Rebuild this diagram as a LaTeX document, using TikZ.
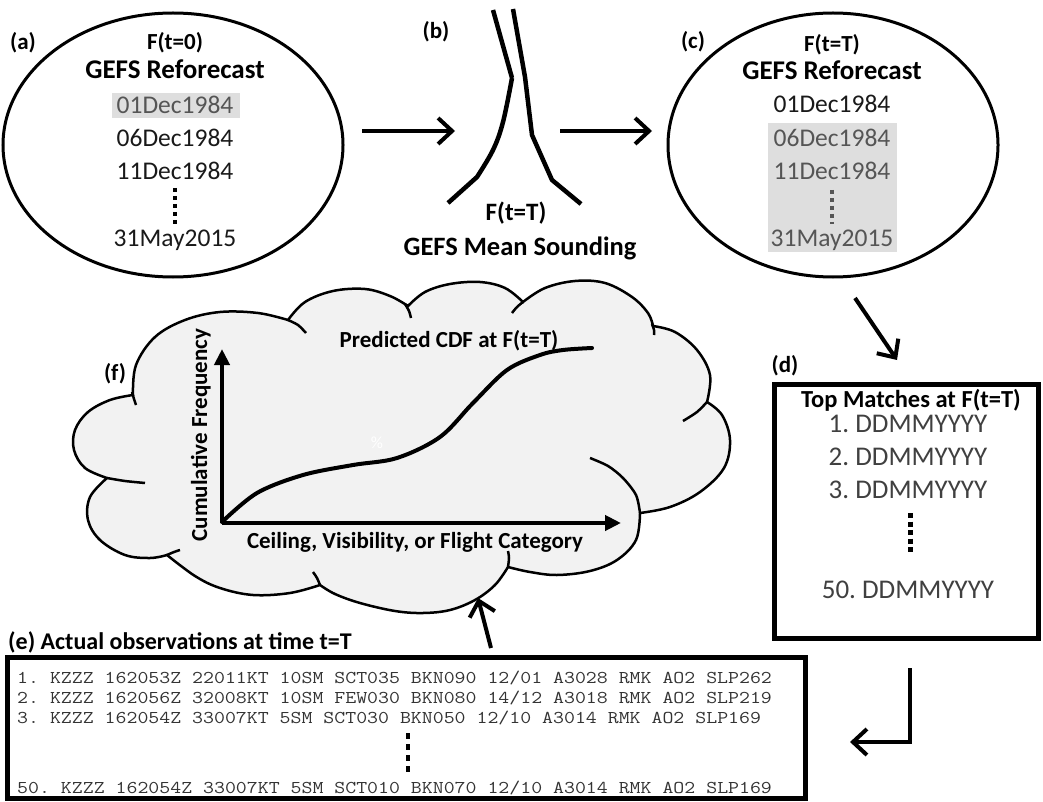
\documentclass[tikz,border=0pt]{standalone}
\usepackage{fontspec}
\setmainfont{Carlito}
\usepackage{graphicx}
\usetikzlibrary{arrows.meta,shapes.geometric}
\definecolor{hl}{HTML}{DEDEDE}
\definecolor{hltext}{HTML}{555555}
\definecolor{cloudgray}{HTML}{F2F2F2}
\definecolor{obstext}{HTML}{333333}
\definecolor{dtext}{HTML}{404040}
\frenchspacing
\begin{document}
\begin{tikzpicture}[x=1pt,y=-1pt,
  lbl/.style={font=\fontsize{23}{26}\selectfont\bfseries, inner sep=0pt},
  sub/.style={font=\fontsize{23}{28}\selectfont\bfseries, inner sep=0pt, anchor=base},
  ttl/.style={font=\fontsize{27}{30}\selectfont\bfseries, inner sep=0pt, anchor=base},
  datet/.style={font=\fontsize{25.5}{30}\selectfont, inner sep=0pt, anchor=base, text=black!90},
  hdate/.style={datet, text=hltext},
  ell/.style={ellipse, draw, line width=3pt, inner sep=0pt},
  arr/.style={line width=4pt, -{Straight Barb[length=14pt,width=26pt]}},
  sndline/.style={line width=4.5pt},
  vdots/.style={line width=4pt, dash pattern=on 4pt off 4pt},
  cloudline/.style={line width=2.5pt},
  axisline/.style={line width=4pt, -{Triangle[length=16pt,width=15pt]}},
  cl/.style={font=\fontsize{23}{26}\selectfont\bfseries, inner sep=0pt, anchor=base},
  mbox/.style={draw, line width=5pt, inner sep=0pt},
  mtext/.style={font=\fontsize{27}{30}\selectfont, inner sep=0pt, anchor=base, text=dtext},
  obs/.style={anchor=base west, inner sep=0pt, font=\fontsize{18}{18}\selectfont\ttfamily, text=obstext}
]
\useasboundingbox (0,0) rectangle (1043,802);

% ---------- (a)
\node[ell, minimum width=340pt, minimum height=264pt] (A) at (173,145) {};
\node[lbl] (la) at (23,43) {(a)};
\node[sub] (a0) at (175,50) {F(t=0)};
\node[ttl] (a1) at (175,79) {GEFS Reforecast};
\fill[hl] (112,93) rectangle (240,118);
\node[hdate] (a2) at (175,114) {01Dec1984};
\node[datet] (a3) at (175,147) {06Dec1984};
\node[datet] (a4) at (175,180) {11Dec1984};
\draw[vdots] (175,188) -- (175,224);
\node[datet] (a5) at (175,247) {31May2015};

% ---------- (b)
\node[lbl] (lb) at (436,32) {(b)};
\draw[sndline] (493,10) -- (512,78) plot[smooth,tension=0.6] coordinates {(512,78) (503,122) (493,150) (477,177)} -- (448,203);
\draw[sndline] (513,9) -- (525,77) -- (532,135) -- (552,180) -- (581,204);
\node[sub, font=\fontsize{25}{30}\selectfont\bfseries] (b0) at (516,221) {F(t=T)};
\node[sub, font=\fontsize{26.5}{30}\selectfont\bfseries] (b1) at (520,255) {GEFS Mean Sounding};

\coordinate (ab1) at (362,131);
\coordinate (ab2) at (455,131);
\coordinate (bc1) at (560,131);
\coordinate (bc2) at (652,131);
\draw[arr] (ab1) -- (ab2);
\draw[arr] (bc1) -- (bc2);

% ---------- (c)
\node[ell, minimum width=330pt, minimum height=264pt] (C) at (833,145) {};
\node[lbl] (lc) at (693,42) {(c)};
\node[sub] (c0) at (832,52) {F(t=T)};
\node[ttl] (c1) at (832,80) {GEFS Reforecast};
\fill[hl] (768,123) rectangle (897,252);
\node[datet] (c2) at (832,113) {01Dec1984};
\node[hdate] (c3) at (832,147) {06Dec1984};
\node[hdate] (c4) at (832,180) {11Dec1984};
\draw[vdots, draw=hltext] (832,190) -- (832,224);
\node[hdate] (c5) at (832,247) {31May2015};

\coordinate (cd1) at (855,298);
\coordinate (cd2) at (897,360);
\draw[arr] (cd1) -- (cd2);

% ---------- (d)
\node[lbl] (ld) at (785,366) {(d)};
\node[mbox, minimum width=264pt, minimum height=254pt] (D) at (906,511) {};
\node[sub, font=\fontsize{24.5}{28}\selectfont\bfseries] (d0) at (911,407) {Top Matches at F(t=T)};
\node[mtext] (d1) at (908,432) {1. DDMMYYYY};
\node[mtext] (d2) at (908,465) {2. DDMMYYYY};
\node[mtext] (d3) at (908,498) {3. DDMMYYYY};
\draw[line width=5pt, dash pattern=on 5pt off 3.5pt] (910,513) -- (910,553);
\node[mtext] (d4) at (908,598) {50. DDMMYYYY};

\coordinate (de1) at (910,668);
\coordinate (de2) at (850,742);
\draw[arr, line join=miter] (de1) |- (de2);

% ---------- (e)
\node[sub, anchor=base west, font=\fontsize{24}{28}\selectfont\bfseries] (le) at (8,649) {(e) Actual observations at time t=T};
\node[mbox, minimum width=798pt, minimum height=141pt] (E) at (406.5,727.5) {};
\node[obs] (e1) at (17,683) {\scalebox{1.18}[1]{1. KZZZ 162053Z 22011KT 10SM SCT035 BKN090 12/01 A3028 RMK AO2 SLP262}};
\node[obs] (e2) at (17,703) {\scalebox{1.18}[1]{2. KZZZ 162056Z 32008KT 10SM FEW030 BKN080 14/12 A3018 RMK AO2 SLP219}};
\node[obs] (e3) at (17,723) {\scalebox{1.18}[1]{3. KZZZ 162054Z 33007KT 5SM SCT030 BKN050 12/10 A3014 RMK AO2 SLP169}};
\draw[line width=4pt, dash pattern=on 6pt off 5pt] (408,733) -- (408,772);
\node[obs] (e4) at (17,793) {\scalebox{1.18}[1]{50. KZZZ 162054Z 33007KT 5SM SCT010 BKN070 12/10 A3014 RMK AO2 SLP169}};

% ---------- (f) cloud
\path[cloudline, draw, fill=cloudgray]
 plot[smooth,tension=0.6] coordinates {(133,395) (136,365) (155,337) (185,320) (220,312) (258,313) (288,320)}
 -- plot[smooth,tension=0.6] coordinates {(288,320) (305,302) (333,291) (365,289) (390,296) (408,306)}
 -- plot[smooth,tension=0.6] coordinates {(408,306) (425,292) (450,284) (480,282) (505,288) (523,302)}
 -- plot[smooth,tension=0.6] coordinates {(523,302) (545,288) (575,281) (605,283) (632,297) (648,313) (653,326)}
 -- plot[smooth,tension=0.6] coordinates {(653,326) (675,332) (697,350) (710,375) (707,402)}
 -- plot[smooth,tension=0.6] coordinates {(707,402) (722,415) (730,440) (724,468) (700,492) (670,507) (640,513)}
 -- plot[smooth,tension=0.6] coordinates {(640,513) (636,540) (617,560) (590,571) (557,575) (530,572) (508,567)}
 -- plot[smooth,tension=0.6] coordinates {(508,567) (495,585) (475,600) (450,610) (423,613) (395,611) (360,603) (335,594) (320,585)}
 -- plot[smooth,tension=0.6] coordinates {(320,585) (290,593) (253,595) (220,588) (195,576) (167,555)}
 -- plot[smooth,tension=0.6] coordinates {(167,555) (150,558) (125,555) (100,540) (88,520) (90,497) (107,478)}
 -- plot[smooth,tension=0.6] coordinates {(107,478) (85,468) (74,450) (75,430) (88,412) (110,400) (133,395)}
 -- cycle;
% inner tails of the cloud bumps
\draw[cloudline] plot[smooth] coordinates {(132,392) (134,399) (136,405)};
\draw[cloudline] plot[smooth] coordinates {(288,320) (298,325) (306,333)};
\draw[cloudline] plot[smooth] coordinates {(405,304) (409,311) (411,318)};
\draw[cloudline] plot[smooth] coordinates {(523,302) (517,307) (512,313)};
\draw[cloudline] plot[smooth] coordinates {(652,324) (654,330) (654,335)};
\draw[cloudline] plot[smooth] coordinates {(707,402) (697,412) (683,421)};
\draw[cloudline] plot[smooth] coordinates {(640,513) (636,495) (623,478) (608,466) (590,458)};
\draw[cloudline] plot[smooth] coordinates {(508,567) (509,558) (508,551)};
\draw[cloudline] plot[smooth] coordinates {(320,585) (317,578) (313,572)};
\draw[cloudline] plot[smooth] coordinates {(167,555) (174,552) (180,550)};
\draw[cloudline] plot[smooth] coordinates {(107,478) (125,481) (145,483)};

\node[lbl] (lf) at (115,374) {(f)};
\coordinate (O) at (222,523);
\coordinate (Ytip) at (222,349);
\coordinate (Xtip) at (621,523);
\draw[axisline] (O) -- (Ytip);
\draw[axisline] (O) -- (Xtip);
\draw[line width=4pt, line cap=round] plot[smooth,tension=0.55] coordinates {(222,522) (257,493) (303,475) (353,465) (397,458) (440,437) (473,403) (507,370) (540,355) (563,350) (592,348)};
\node[cl] (ftitle) at (449,347) {Predicted CDF at F(t=T)};
\node[cl] (fx) at (415,548) {Ceiling, Visibility, or Flight Category};
\node[cl, rotate=90] (fy) at (207,435) {Cumulative Frequency};
\node[inner sep=0pt, font=\fontsize{17}{17}\selectfont, text=white] (pct) at (377,443) {\%};

\coordinate (ef1) at (491,648);
\coordinate (ef2) at (478,598);
\draw[arr] (ef1) -- (ef2);
\end{tikzpicture}
\end{document}
